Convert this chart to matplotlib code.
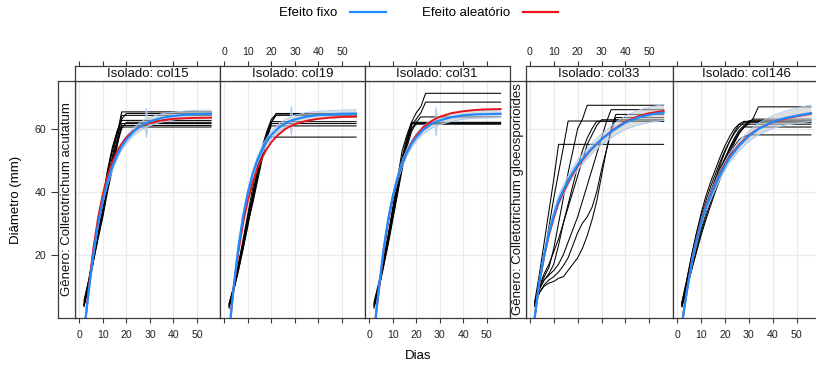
import numpy as np
import matplotlib
matplotlib.use('Agg')
from matplotlib import pyplot as plt
from matplotlib.lines import Line2D

plt.rcParams['font.family'] = ['Liberation Sans', 'DejaVu Sans']

W, H = 816, 368

# eixos comuns
x_ticks = [0, 10, 20, 30, 40, 50]
y_ticks = [20, 40, 60]
x_lim = (-1.85, 59.8)
y_lim = (-0.1, 75.1)

generos = ['Gênero: Colletotrichum acutatum', 'Gênero: Colletotrichum gloeosporioides']
isolados = ['col15', 'col19', 'col31', 'col33', 'col146']

# ---- repeticoes (observado) ----
dias_col15 = [2, 4, 6, 8, 10, 12, 14, 16, 18, 20, 56]
obs_col15 = [
    [4.5, 11, 19, 28, 36, 44, 51, 58, 65.3, 65.3, 65.3],
    [5.5, 12, 21, 29, 38, 46, 53, 59, 63, 64.8, 64.8],
    [3.5, 10, 18, 26, 34, 42, 50, 56, 64.2, 64.2, 64.2],
    [4, 11, 20, 29, 38, 47, 54, 59, 62.6, 62.6, 62.6],
    [5, 12, 20, 27, 35, 42, 48, 55, 60, 62.0, 62.0],
    [4, 10, 18, 25, 32, 40, 47, 54, 61.6, 61.6, 61.6],
    [3.8, 11, 19, 28, 37, 46, 53, 58, 61.0, 61.0, 61.0],
    [4.2, 10.5, 18, 26, 33, 41, 49, 56, 60.5, 60.5, 60.5],
]

dias_col19 = [2, 4, 6, 8, 10, 12, 14, 16, 18, 20, 22, 56]
obs_col19 = [
    [3.5, 9, 16, 23, 31, 38, 45, 52, 58, 62, 64.8, 64.8],
    [4, 10, 17, 25, 33, 41, 48, 54, 59, 63, 64.6, 64.6],
    [3, 8.5, 15, 22, 30, 37, 44, 51, 57, 62, 64.2, 64.2],
    [4.5, 10, 17, 24, 32, 39, 46, 53, 58, 62.2, 62.2, 62.2],
    [3.8, 9.5, 16, 23, 30, 36, 43, 50, 56, 61.6, 61.6, 61.6],
    [4.2, 9, 15, 22, 29, 37, 45, 52, 58, 60.85, 60.85, 60.85],
    [3.5, 9, 16, 24, 31, 39, 46, 52, 57.3, 57.3, 57.3, 57.3],
]

dias_col31 = [2, 4, 6, 8, 10, 12, 14, 16, 18, 20, 22, 24, 56]
obs_col31 = [
    [4, 10, 17, 25, 33, 41, 49, 56, 62, 65, 67, 71.2, 71.2],
    [3.5, 9, 16, 24, 32, 40, 48, 55, 61, 63, 65, 68.4, 68.4],
    [4.5, 10, 18, 26, 34, 42, 50, 56, 60, 62, 63.7, 63.7, 63.7],
    [3, 9, 16, 23, 31, 39, 47, 54, 59, 61.8, 61.8, 61.8, 61.8],
    [4, 10.5, 18, 26, 35, 43, 51, 57, 61.6, 61.6, 61.6, 61.6, 61.6],
    [5, 11, 17, 24, 32, 40, 48, 55, 60, 61.4, 61.4, 61.4, 61.4],
    [3.8, 9.5, 17, 25, 34, 44, 53, 58, 62, 62, 62, 62, 62],
]

dias_col33 = [2, 4, 6, 8, 10, 12, 14, 16, 18, 20, 22, 24, 26, 28, 30, 32, 34, 36, 38, 56]
obs_col33 = [
    [5, 14, 24, 34, 44, 55, 55, 55, 55, 55, 55, 55, 55, 55, 55, 55, 55, 55, 55, 55],
    [4.5, 12, 20, 29, 38, 46, 54, 62.4, 62.4, 62.4, 62.4, 62.4, 62.4, 62.4, 62.4, 62.4, 62.4, 62.4, 62.4, 62.4],
    [5, 10, 13, 16, 22, 30, 38, 46, 53, 60, 63, 67.4, 67.4, 67.4, 67.4, 67.4, 67.4, 67.4, 67.4, 67.4],
    [4, 9, 12, 14, 17, 23, 30, 36, 42, 48, 53, 57, 60, 62.3, 62.3, 62.3, 62.3, 62.3, 62.3, 62.3],
    [4.5, 9.5, 12, 13.5, 15, 17, 20, 24, 28, 32, 37, 42, 47, 52, 57, 62, 66.0, 66.0, 66.0, 66.0],
    [3.5, 8, 10.5, 12, 13, 14.5, 16.5, 19, 23, 27, 30, 32, 35, 40, 47, 53, 59, 63.5, 63.5, 63.5],
    [4, 10, 14, 17, 21, 25, 30, 35, 40, 45, 50, 55, 58, 61, 62.8, 62.8, 62.8, 62.8, 62.8, 62.8],
    [4, 8, 10, 11, 11.5, 12.5, 13, 15, 17, 19, 22, 26, 31, 37, 45, 53, 60, 64.5, 64.5, 64.5],
]

dias_col146 = [2, 4, 6, 8, 10, 12, 14, 16, 18, 20, 22, 24, 26, 28, 30, 32, 34, 36, 56]
obs_col146 = [
    [4.5, 11, 18, 24, 30, 35, 40, 44, 47.5, 50.5, 53.5, 56, 58.5, 60.5, 61.5, 63.5, 66.9, 66.9, 66.9],
    [3.5, 9, 15, 21, 27, 32, 36.5, 41, 45, 49, 52.5, 55.5, 58.5, 60.5, 62, 63, 63, 63, 63],
    [4, 11, 18, 24.5, 30, 35, 39.5, 43.5, 47, 50.5, 54, 57, 59.5, 61, 62.5, 62.5, 62.5, 62.5, 62.5],
    [5, 12, 19.5, 26.5, 33, 38.5, 43, 47, 51, 54.5, 57.5, 60, 61.5, 62.3, 62.3, 62.3, 62.3, 62.3, 62.3],
    [3.8, 10, 16.5, 22.5, 28, 33.5, 39, 44, 48.5, 52.5, 56, 59, 61.4, 61.4, 61.4, 61.4, 61.4, 61.4, 61.4],
    [4.2, 10.5, 17, 23, 28.5, 33.5, 38, 42.5, 46.5, 50, 53.5, 56.5, 59, 60.5, 60.5, 60.5, 60.5, 60.5, 60.5],
    [3.5, 9, 15, 20.5, 26, 31, 35.5, 40, 44, 48, 51.5, 54.5, 56.5, 57.5, 58, 58, 58, 58, 58],
    [4.6, 11.5, 19.5, 26.5, 32, 37, 41.5, 45.5, 49.5, 53, 56, 58.5, 60.5, 62, 62, 62, 62, 62, 62],
]

# ---- curvas ajustadas ----
dias_aj_g1 = [2.7, 4, 6, 8, 10, 12, 14, 16, 18, 20, 23, 26, 28, 28.5, 29, 30, 35, 40, 45, 50, 56]
fixo_col15 = [0, 8.4, 20.4, 29.9, 37.3, 43.2, 47.8, 51.4, 54.3, 56.5, 59.0, 60.8, 61.6, 61.75, 61.9, 62.3, 63.4, 64.0, 64.4, 64.6, 64.7]
aleat_col15 = [0, 9.5, 22.2, 31.9, 39.3, 45.0, 49.4, 52.7, 55.2, 57.2, 59.3, 60.7, 61.3, 61.45, 61.55, 61.8, 62.6, 63.1, 63.3, 63.4, 63.45]
fixo_col19 = [0, 10.1, 22.6, 32.3, 39.7, 45.5, 49.9, 53.3, 55.9, 58.0, 60.2, 61.7, 62.4, 62.5, 62.7, 62.9, 63.8, 64.3, 64.5, 64.7, 64.75]
aleat_col19 = [0.7, 9.7, 21.1, 30.1, 37.2, 42.8, 47.3, 50.7, 53.5, 55.7, 58.1, 59.9, 60.7, 60.9, 61.1, 61.4, 62.5, 63.1, 63.5, 63.7, 63.8]
fixo_col31 = [0, 9.0, 21.3, 31.0, 38.5, 44.3, 48.8, 52.4, 55.1, 57.2, 59.6, 61.2, 62.0, 62.2, 62.35, 62.6, 63.6, 64.2, 64.5, 64.6, 64.7]
aleat_col31 = [0, 8.2, 20.6, 30.4, 38.0, 44.1, 48.8, 52.5, 55.5, 57.8, 60.4, 62.1, 63.0, 63.2, 63.4, 63.7, 64.9, 65.5, 65.9, 66.1, 66.2]
ic_g1 = [0, 0.5, 0.7, 0.8, 0.9, 1.0, 1.0, 1.1, 1.1, 1.2, 1.2, 1.3, 1.3, 4.6, 1.3, 1.3, 1.3, 1.2, 1.2, 1.2, 1.2]

dias_aj_col33 = [2, 3, 4, 6, 8, 10, 12, 14, 17, 20, 25, 30, 35, 40, 45, 50, 56]
fixo_col33 = [0, 6, 11.5, 20, 27, 32.5, 37.2, 40.5, 45, 48.5, 53, 56.6, 59.5, 61.9, 63.4, 64.4, 65.1]
aleat_col33 = [0, 5.8, 11.2, 19.6, 26.4, 31.8, 36.5, 39.8, 44.4, 48.1, 52.8, 56.6, 59.7, 62.2, 63.8, 64.9, 65.6]
ic_col33 = [0, 0.7, 0.9, 1.1, 1.3, 1.4, 1.5, 1.5, 1.5, 1.5, 1.6, 1.7, 1.9, 2.1, 2.3, 2.4, 2.5]

dias_aj_col146 = [2.4, 4, 6.5, 8, 10, 12, 14.9, 18, 21.8, 26, 30, 34.3, 40, 45, 50, 56]
fixo_col146 = [0, 8, 19, 24, 30, 35, 40.2, 45.5, 50.5, 54.6, 57.6, 60.0, 62.1, 63.3, 64.1, 64.9]
aleat_col146 = [0, 8.3, 19.4, 24.5, 30.6, 35.6, 40.7, 46, 51, 55, 57.9, 60.1, 62.0, 63.1, 63.9, 64.7]
ic_col146 = [0, 0.6, 0.8, 0.9, 1.0, 1.1, 1.2, 1.3, 1.4, 1.5, 1.6, 1.8, 2.0, 2.2, 2.4, 2.6]

azul = '#1f8bff'
vermelho = '#e8141c'
borda = '#3a3a3a'
grade = '#ebebeb'


def rect(x0, y0, x1, y1):
    return [x0 / W, 1 - y1 / H, (x1 - x0) / W, (y1 - y0) / H]


def style_frame(ax):
    for s in ax.spines.values():
        s.set_color(borda)
        s.set_linewidth(0.9)


fig = plt.figure(figsize=(W / 100, H / 100), dpi=100)

# (isolado, x0, x1, dias obs, obs, dias ajuste, fixo, aleatorio, ic, rotulo embaixo, rotulo em cima)
paineis = [
    ('col15', 75, 220, dias_col15, obs_col15, dias_aj_g1, fixo_col15, aleat_col15, ic_g1, True, False),
    ('col19', 220, 365, dias_col19, obs_col19, dias_aj_g1, fixo_col19, aleat_col19, ic_g1, False, True),
    ('col31', 365, 509.5, dias_col31, obs_col31, dias_aj_g1, fixo_col31, aleat_col31, ic_g1, True, False),
    ('col33', 525.5, 672.7, dias_col33, obs_col33, dias_aj_col33, fixo_col33, aleat_col33, ic_col33, False, True),
    ('col146', 672.7, 820, dias_col146, obs_col146, dias_aj_col146, fixo_col146, aleat_col146, ic_col146, True, False),
]

y_top, y_bot, strip_top = 81, 318, 66

for nome, x0, x1, d_obs, obs, d_aj, fixo, aleat, ic, lab_b, lab_t in paineis:
    ax = fig.add_axes(rect(x0, y_top, x1, y_bot))
    ax.set_xlim(x_lim)
    ax.set_ylim(y_lim)
    ax.set_xticks(x_ticks)
    ax.set_yticks(y_ticks)
    ax.grid(True, color=grade, lw=0.8)
    ax.set_axisbelow(True)
    ax.tick_params(axis='x', direction='out', length=3.6, width=0.8, color=borda,
                   labelsize=7.6, labelcolor='#222222', pad=5, labelbottom=lab_b)
    ax.tick_params(axis='y', left=False, labelleft=False)
    style_frame(ax)

    for v in obs:
        ax.plot(d_obs, v, color='black', lw=0.75, zorder=2)

    fixo_a = np.array(fixo)
    ic_a = np.array(ic)
    ax.fill_between(d_aj, fixo_a - ic_a, fixo_a + ic_a, color='#c8c8c8', alpha=0.6, lw=0, zorder=3)
    ax.plot(d_aj, fixo_a - ic_a, color='#a9cdf3', lw=0.7, zorder=3)
    ax.plot(d_aj, fixo_a + ic_a, color='#a9cdf3', lw=0.7, zorder=3)
    ax.plot(d_aj, aleat, color=vermelho, lw=1.4, zorder=4)
    ax.plot(d_aj, fixo, color=azul, lw=1.6, zorder=5)

    # faixa superior
    sax = fig.add_axes(rect(x0, strip_top, x1, y_top))
    sax.set_xlim(x_lim)
    sax.set_xticks(x_ticks)
    sax.set_yticks([])
    sax.xaxis.tick_top()
    sax.tick_params(axis='x', direction='out', length=3.6, width=0.8, color=borda,
                    labelsize=7.6, labelcolor='#222222', pad=3, labeltop=lab_t, labelbottom=False)
    style_frame(sax)
    sax.text(0.5, 0.45, 'Isolado: ' + nome, transform=sax.transAxes, ha='center', va='center',
             fontsize=9.5, color='#111111')

# faixas laterais (genero)
for i, (xa, xb) in enumerate([(58.5, 75), (509.5, 525.5)]):
    lax = fig.add_axes(rect(xa, y_top, xb, y_bot))
    lax.set_ylim(y_lim)
    lax.set_xticks([])
    style_frame(lax)
    if i == 0:
        lax.set_yticks(y_ticks)
        lax.tick_params(axis='y', direction='out', length=4.7, width=0.8, color=borda,
                        labelsize=7.6, labelcolor='#222222', pad=4)
    else:
        lax.set_yticks([])
    lax.text(0.5, 0.5, generos[i], transform=lax.transAxes, rotation=90, ha='center', va='center',
             fontsize=9.5, color='#111111')

# legenda
fig.text(279 / W, 1 - 13 / H, 'Efeito fixo', ha='left', va='center', fontsize=9.5)
fig.add_artist(Line2D([350 / W, 386 / W], [1 - 12 / H, 1 - 12 / H], color=azul, lw=1.6))
fig.text(422 / W, 1 - 13 / H, 'Efeito aleatório', ha='left', va='center', fontsize=9.5)
fig.add_artist(Line2D([523 / W, 558 / W], [1 - 12 / H, 1 - 12 / H], color=vermelho, lw=1.6))

fig.text(418 / W, 1 - 356 / H, 'Dias', ha='center', va='center', fontsize=9.5)
fig.text(16 / W, 1 - 199.5 / H, 'Diâmetro (mm)', rotation=90, ha='center', va='center', fontsize=9.5)

fig.savefig('out.png', dpi=100)
